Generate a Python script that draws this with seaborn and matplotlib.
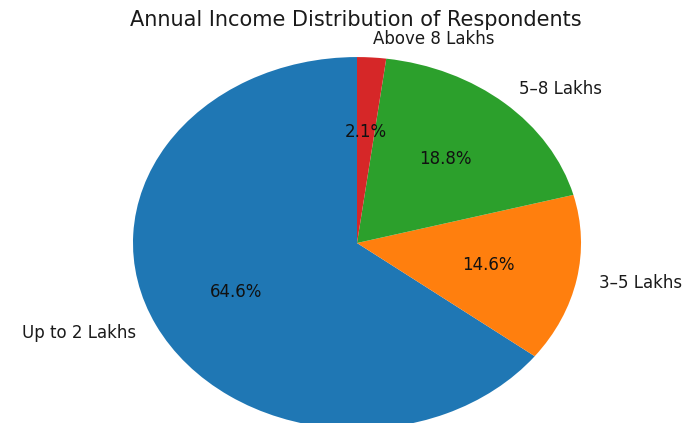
import matplotlib
matplotlib.use("Agg")
import matplotlib.pyplot as plt
import seaborn as sns

# Survey responses per annual income bracket
income_brackets = ["Up to 2 Lakhs", "3–5 Lakhs", "5–8 Lakhs", "Above 8 Lakhs"]
respondent_counts = [31, 7, 9, 1]

chart_title = "Annual Income Distribution of Respondents"

sns.set_style("white")
plt.rcParams["font.family"] = ["DejaVu Sans"]

colors = sns.color_palette("tab10", n_colors=len(income_brackets))

fig = plt.figure(figsize=(6.88, 4.23), dpi=100)
# Axes is wider than tall and runs off the bottom edge, so the pie is an ellipse cut at the base
ax = fig.add_axes([0.1119, -0.124, 0.814, 1.099])

wedges, texts, autotexts = ax.pie(
    respondent_counts,
    labels=income_brackets,
    colors=colors,
    autopct="%1.1f%%",
    startangle=90,
    wedgeprops={"linewidth": 0},
    textprops={"fontsize": 12, "color": "#1a1a1a"},
)
for t in autotexts:
    t.set_color("#111111")

ax.set_aspect("auto")
ax.set_xlim(-1.25, 1.25)
ax.set_ylim(-1.25, 1.25)
ax.axis("off")

fig.text(356 / 688, 1 - 20 / 423, chart_title, ha="center", va="center",
         fontsize=15, color="#1a1a1a")

fig.savefig("out.png", dpi=100)
